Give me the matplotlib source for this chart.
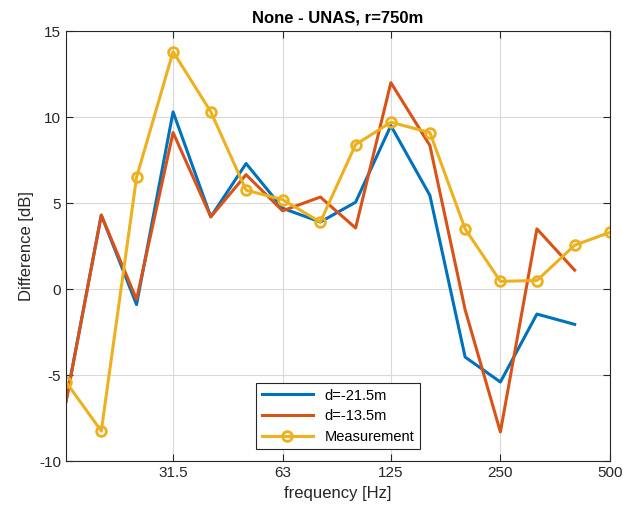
import matplotlib
matplotlib.use("Agg")
import matplotlib.pyplot as plt
from matplotlib.ticker import FixedLocator, NullLocator

plt.rcParams['font.family'] = ['Liberation Sans', 'DejaVu Sans']
plt.rcParams['axes.unicode_minus'] = False

# third-octave band centre frequencies [Hz]
freq = [16, 20, 25, 31.5, 40, 50, 63, 80, 100, 125, 160, 200, 250, 315, 400, 500]

# level differences [dB]
d_215 = [-6.5, 4.3, -0.9, 10.3, 4.2, 7.3, 4.7, 3.9, 5.05, 9.5, 5.45, -3.95, -5.4, -1.45, -2.05]
d_135 = [-6.55, 4.3, -0.6, 9.1, 4.2, 6.65, 4.55, 5.35, 3.55, 12.0, 8.35, -1.2, -8.3, 3.5, 1.1]
meas = [-5.4, -8.25, 6.5, 13.8, 10.3, 5.75, 5.2, 3.9, 8.4, 9.7, 9.1, 3.5, 0.45, 0.5, 2.55, 3.3]

xticks = [31.5, 63, 125, 250, 500]
xticklabels = ['31.5', '63', '125', '250', '500']

blue = (0, 0.447, 0.741)
red = (0.85, 0.325, 0.098)
yellow = (0.929, 0.694, 0.125)

fig = plt.figure(figsize=(6.23, 5.17), dpi=100)
ax = fig.add_axes([0.106, 0.108, 0.873, 0.832])

ax.plot(freq[:len(d_215)], d_215, color=blue, lw=2.2, label='d=-21.5m')
ax.plot(freq[:len(d_135)], d_135, color=red, lw=2.2, label='d=-13.5m')
ax.plot(freq, meas, color=yellow, lw=2.2, marker='o', ms=7, mfc='none',
        mew=2, label='Measurement')

ax.set_xscale('log')
ax.set_xlim(16, 500)
ax.set_ylim(-10, 15)
ax.xaxis.set_major_locator(FixedLocator(xticks))
ax.set_xticklabels(xticklabels)
ax.xaxis.set_minor_locator(NullLocator())
ax.set_yticks([-10, -5, 0, 5, 10, 15])

ax.grid(True, color=(0.85, 0.85, 0.85), lw=0.8)
ax.set_axisbelow(True)
ax.tick_params(direction='in', top=True, right=True, labelsize=11, length=5,
               colors=(0.15, 0.15, 0.15), labelcolor=(0.15, 0.15, 0.15))
for s in ax.spines.values():
    s.set_color((0.15, 0.15, 0.15))

ax.set_xlabel('frequency [Hz]', fontsize=12, color=(0.15, 0.15, 0.15))
ax.set_ylabel('Difference [dB]', fontsize=12, color=(0.15, 0.15, 0.15))
ax.set_title('None - UNAS, r=750m', fontsize=12, fontweight='bold', pad=6)

leg = ax.legend(loc='lower center', fontsize=10.5, fancybox=False,
                edgecolor=(0.15, 0.15, 0.15), framealpha=1,
                handlelength=3.5, borderaxespad=0.8, labelspacing=0.45)
leg.get_frame().set_linewidth(0.8)

fig.savefig('out.png', dpi=100)
